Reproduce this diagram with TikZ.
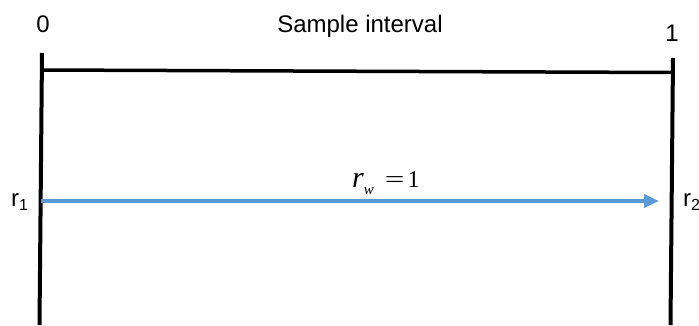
\documentclass[tikz,border=0pt]{standalone}
\usepackage{fontspec}
\usepackage{graphicx}
\setmainfont{Liberation Sans}
\newfontfamily\tms{Liberation Serif}
\usetikzlibrary{arrows.meta}
\definecolor{arrblue}{RGB}{91,155,213}
\tikzset{
  bar/.style={line width=4pt, line cap=butt},
  lbl/.style={inner sep=0pt, anchor=base, font=\fontsize{24}{24}\selectfont},
  lblw/.style={inner sep=0pt, anchor=base west, font=\fontsize{24}{24}\selectfont},
}
\begin{document}
\begin{tikzpicture}[x=1pt,y=-1pt]
\useasboundingbox (0,0) rectangle (699,325);
\coordinate (LT) at (42,53);
\coordinate (LB) at (39.5,325);
\coordinate (RT) at (673,58);
\coordinate (RB) at (670.5,325);
\coordinate (TL) at (42,70);
\coordinate (TR) at (673,72.5);
\coordinate (AS) at (41,201);
\coordinate (AE) at (659,201);
\draw[bar] (LT) -- (LB);
\draw[bar] (RT) -- (RB);
\draw[line width=3.5pt] (TL) -- (TR);
\draw[arrblue, line width=4pt, -{Triangle[length=15pt,width=13pt]}] (AS) -- (AE);
\node[lbl] (zero) at (43,32) {0};
\node[lbl] (one) at (672,41) {1};
\node[lbl] (title) at (360,32) {Sample interval};
\node[lblw] (r1) at (11,206) {r\raisebox{-4pt}{\fontsize{16}{16}\selectfont 1}};
\node[lblw] (r2) at (683,206) {r\raisebox{-4pt}{\fontsize{16}{16}\selectfont 2}};
\node[inner sep=0pt, anchor=base west] (rw) at (352,187) {\tms{\fontsize{30}{30}\selectfont\textit{r}}\raisebox{-7pt}{\fontsize{15}{15}\selectfont\textit{w}}\hspace{11pt}{\fontsize{24}{24}\selectfont\scalebox{1.45}[1]{=}}\hspace{3pt}{\fontsize{24}{24}\selectfont 1}};
\end{tikzpicture}
\end{document}
